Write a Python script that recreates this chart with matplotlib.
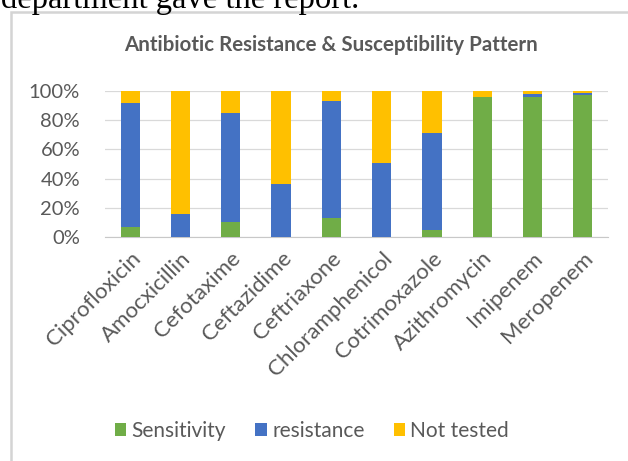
import matplotlib.pyplot as plt
import numpy as np
from matplotlib.patches import Rectangle

drugs = ['Ciprofloxicin', 'Amocxicillin', 'Cefotaxime', 'Ceftazidime', 'Ceftriaxone',
         'Chloramphenicol', 'Cotrimoxazole', 'Azithromycin', 'Imipenem', 'Meropenem']
sensitivity = [7, 0, 10, 0, 13, 0, 5, 96, 96, 97.5]
resistance = [85, 16, 75, 36, 80, 51, 66, 0, 2, 1]
not_tested = [8, 84, 15, 64, 7, 49, 29, 4, 2, 1.5]

green = '#70AD47'
blue = '#4472C4'
gold = '#FFC000'
grey_txt = '#595959'

plt.rcParams['font.family'] = ['Lato', 'DejaVu Sans']

W, H = 628, 461
fig = plt.figure(figsize=(W / 100, H / 100), dpi=100)

# page text above the chart box (cut off at the top, as in the source)
fig.text(1 / W, 1 - 8 / H, 'department gave the report.', family='Liberation Serif',
         fontsize=23.5, va='baseline', ha='left', color='black')
fig.patches.append(Rectangle((11 / W, -0.01), 1.0, 1 - 12 / H + 0.01,
                             transform=fig.transFigure, facecolor='white',
                             edgecolor='#D4D4D4', lw=1.8, zorder=1))

ax = fig.add_axes([105 / W, 1 - 237 / H, 503 / W, 146 / H])
ax.set_zorder(2)
ax.patch.set_alpha(0)
x = np.arange(len(drugs))
w = 0.38
s = np.array(sensitivity)
r = np.array(resistance)
n = np.array(not_tested)
ax.bar(x, s, w, color=green, label='Sensitivity', zorder=3)
ax.bar(x, r, w, bottom=s, color=blue, label='resistance', zorder=3)
ax.bar(x, n, w, bottom=s + r, color=gold, label='Not tested', zorder=3)

ax.set_xlim(-0.5, len(drugs) - 0.5)
ax.set_ylim(0, 100)
ax.set_yticks(range(0, 101, 20))
ax.set_yticklabels([f'{v}%' for v in range(0, 101, 20)], fontsize=14.5, color=grey_txt)
ax.set_xticks(x)
ax.set_xticklabels(drugs, rotation=45, ha='right', rotation_mode='anchor',
                   fontsize=16, color=grey_txt)
ax.tick_params(axis='y', length=0, pad=18)
ax.tick_params(axis='x', length=0, pad=8)
ax.grid(axis='y', color='#D9D9D9', lw=0.9, zorder=0)
for sp in ['top', 'right', 'left']:
    ax.spines[sp].set_visible(False)
ax.spines['bottom'].set_color('#C8C8C8')

fig.text(331 / W, 1 - 45 / H, 'Antibiotic Resistance & Susceptibility Pattern',
         ha='center', va='center', fontsize=14.8, color=grey_txt, fontweight='bold')

fig.legend(loc='center', bbox_to_anchor=(312 / W, 1 - 431 / H), ncol=3, frameon=False,
           fontsize=15, labelcolor=grey_txt, handlelength=0.55, handleheight=0.55,
           handletextpad=0.25, columnspacing=1.4)

fig.savefig('out.png', dpi=100)
